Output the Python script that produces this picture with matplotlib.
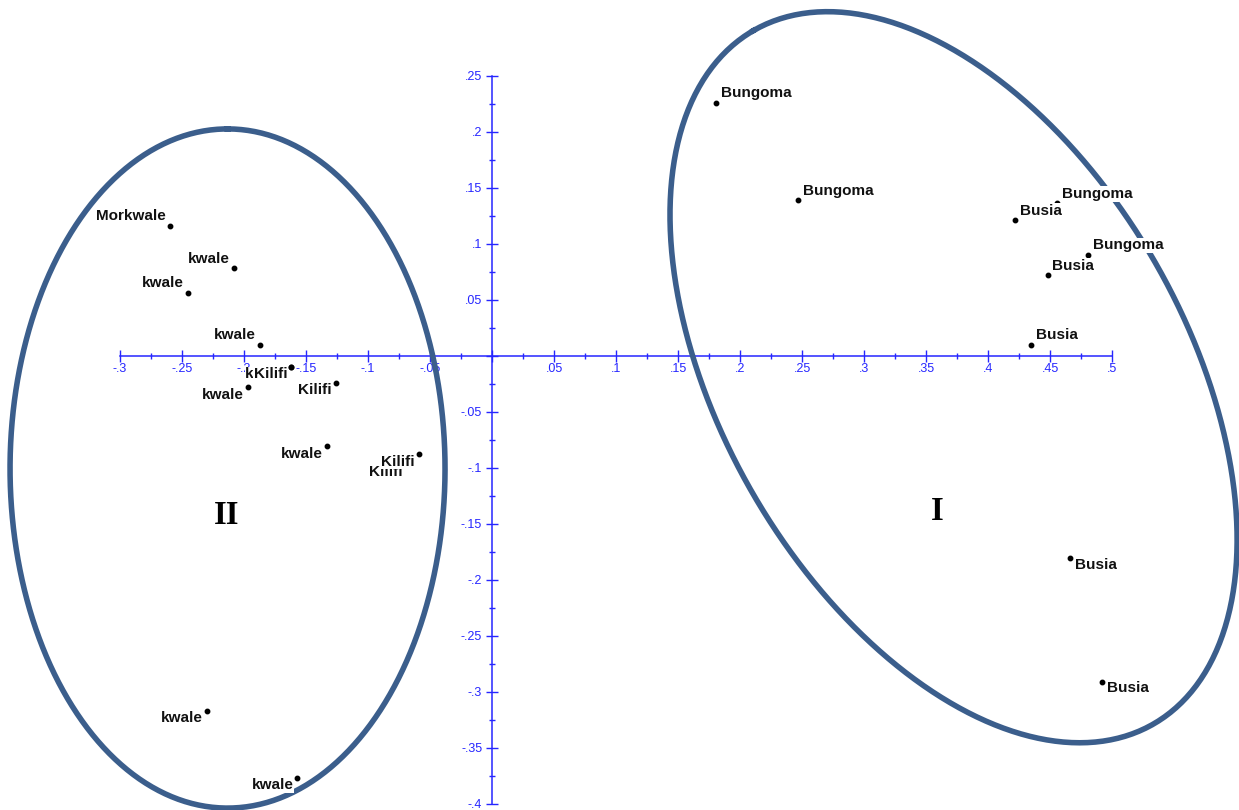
import numpy as np
import matplotlib
matplotlib.use("Agg")
import matplotlib.pyplot as plt
from matplotlib.ticker import FixedLocator, FuncFormatter

# -------- data --------
names = ["Morkwale", "kwale", "kwale", "kwale", "kwale", "Kilifi", "kwale",
         "Kilifi", "kwale", "Kilifi", "Kilifi", "kwale", "kwale",
         "Bungoma", "Bungoma", "Bungoma", "Busia", "Bungoma", "Busia",
         "Busia", "Busia", "Busia"]
dim1 = [-0.260, -0.208, -0.245, -0.187, -0.162, -0.162, -0.197,
        -0.126, -0.133, -0.069, -0.059, -0.230, -0.157,
        0.181, 0.247, 0.456, 0.422, 0.481, 0.448,
        0.435, 0.466, 0.492]
dim2 = [0.116, 0.078, 0.056, 0.010, -0.010, -0.010, -0.028,
        -0.024, -0.081, -0.097, -0.088, -0.317, -0.377,
        0.226, 0.139, 0.136, 0.121, 0.090, 0.072,
        0.010, -0.181, -0.291]

# where each label sits relative to its dot (ul = upper left, lr = lower right ...)
placement = ["ul", "ul", "ul", "ul", "ll", "ll", "ll",
             "ll", "ll", "ll", "ll", "ll", "ll",
             "ur", "ur", "ur", "ur", "ur", "ur",
             "ur", "lr", "lr"]

x_ticks = [-0.3, -0.275, -0.25, -0.225, -0.2, -0.175, -0.15, -0.125, -0.1, -0.075,
           -0.05, -0.025, 0, 0.025, 0.05, 0.075, 0.1, 0.125, 0.15, 0.175, 0.2,
           0.225, 0.25, 0.275, 0.3, 0.325, 0.35, 0.375, 0.4, 0.425, 0.45, 0.475, 0.5]
y_ticks = [-0.4, -0.375, -0.35, -0.325, -0.3, -0.275, -0.25, -0.225, -0.2, -0.175,
           -0.15, -0.125, -0.1, -0.075, -0.05, -0.025, 0, 0.025, 0.05, 0.075, 0.1,
           0.125, 0.15, 0.175, 0.2, 0.225, 0.25]

# cluster outlines: centre, semi-axis vectors (data units)
clusters = {
    "II": dict(c=(-0.2133, -0.1007), u=(0.0, 0.3032), v=(0.1754, 0.0), lab=(-0.214, -0.143)),
    "I": dict(c=(0.3722, -0.0192), u=(-0.1614, 0.3095), v=(0.1620, 0.1036), lab=(0.359, -0.139)),
}

AXIS_BLUE = "#2626ff"
RING = "#3B5E8C"

fig = plt.figure(figsize=(12.39, 8.10), dpi=100)
ax = fig.add_axes([0, 0, 1, 1])
ax.set_xlim(-0.3968, 0.6024)
ax.set_ylim(-0.4056, 0.3176)

# axes crossing at the origin
for side in ["top", "right"]:
    ax.spines[side].set_visible(False)
ax.spines["left"].set_position(("data", 0))
ax.spines["bottom"].set_position(("data", 0))
ax.spines["left"].set_bounds(-0.4, 0.25)
ax.spines["bottom"].set_bounds(-0.3, 0.5)
for side in ["left", "bottom"]:
    ax.spines[side].set_color(AXIS_BLUE)
    ax.spines[side].set_linewidth(1.1)


def fmt(v, pos=None):
    v = round(v, 3)
    if abs(v) < 1e-9:
        return ""
    return f"{v:g}".replace("0.", ".")


major_x = [t for t in x_ticks if round(t * 1000) % 50 == 0]
minor_x = [t for t in x_ticks if round(t * 1000) % 50 != 0]
major_y = [t for t in y_ticks if round(t * 1000) % 50 == 0]
minor_y = [t for t in y_ticks if round(t * 1000) % 50 != 0]
ax.xaxis.set_major_locator(FixedLocator(major_x))
ax.xaxis.set_minor_locator(FixedLocator(minor_x))
ax.yaxis.set_major_locator(FixedLocator(major_y))
ax.yaxis.set_minor_locator(FixedLocator(minor_y))
ax.xaxis.set_major_formatter(FuncFormatter(fmt))
ax.yaxis.set_major_formatter(FuncFormatter(fmt))

ax.tick_params(which="major", direction="inout", length=8.6, width=1.0,
               color=AXIS_BLUE, labelcolor=AXIS_BLUE, labelsize=9)
ax.tick_params(which="minor", direction="inout", length=4.3, width=1.0, color=AXIS_BLUE)
ax.tick_params(axis="x", which="major", pad=0.8)
ax.tick_params(axis="y", which="major", pad=2.8)
for lbl in ax.get_xticklabels() + ax.get_yticklabels():
    lbl.set_family("Liberation Sans")

# cluster rings
t = np.linspace(0, 2 * np.pi, 400)
for key, cl in clusters.items():
    cx, cy = cl["c"]
    ux, uy = cl["u"]
    vx, vy = cl["v"]
    ax.plot(cx + ux * np.cos(t) + vx * np.sin(t),
            cy + uy * np.cos(t) + vy * np.sin(t),
            color=RING, lw=4, zorder=3, clip_on=False)
    ax.text(cl["lab"][0], cl["lab"][1], key, family="Liberation Serif",
            fontweight="bold", fontsize=23.5, ha="center", va="center", zorder=4)

# points
ax.plot(dim1, dim2, "o", color="black", ms=3.2, zorder=4, clip_on=False)

offsets = {"ul": (-4, 5.5, "right"), "ll": (-4, -11.5, "right"),
           "ur": (4.5, 5.5, "left"), "lr": (5, -10.5, "left")}
for i, (name, x, y, p) in enumerate(zip(names, dim1, dim2, placement)):
    dx, dy, ha = offsets[p]
    ax.annotate(name, (x, y), xytext=(dx, dy), textcoords="offset pixels",
                ha=ha, va="baseline", fontsize=11, fontweight="bold",
                family="Liberation Sans", color="#111111", zorder=5 + i * 0.01,
                bbox=dict(fc="white", ec="none", pad=0.4))

fig.savefig("out.png", dpi=100)
